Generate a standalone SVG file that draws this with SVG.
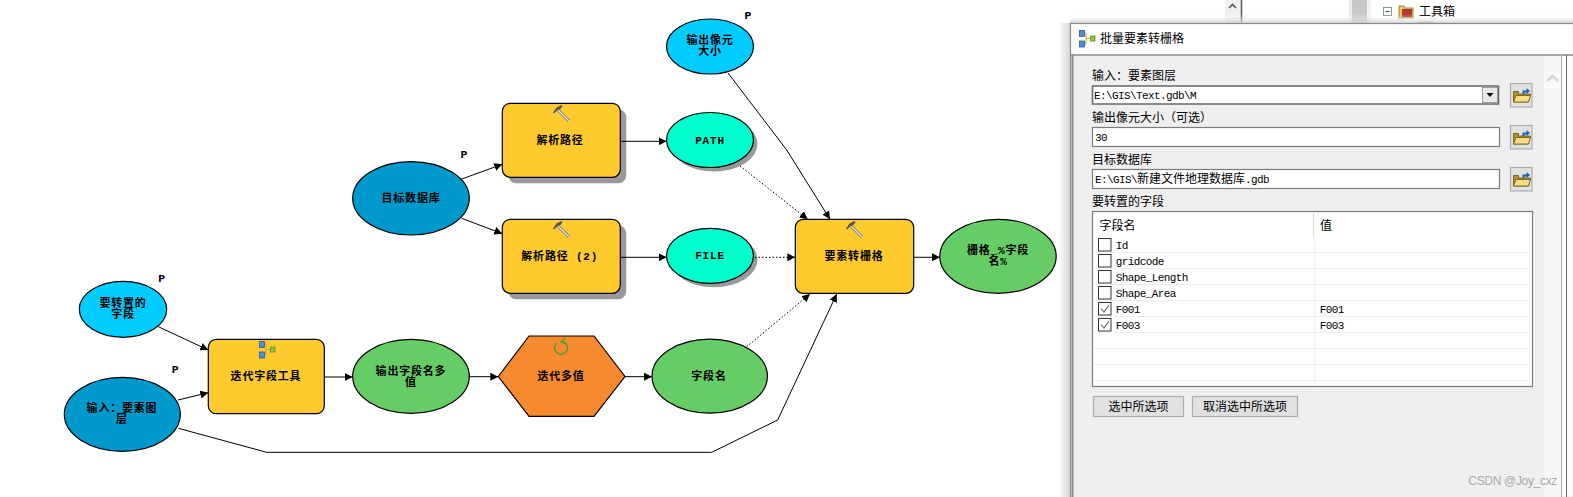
<svg xmlns="http://www.w3.org/2000/svg" width="1573" height="497" viewBox="0 0 1573 497">
<style>
.n{stroke:#000;stroke-width:1.2}
.sh{fill:#999;stroke:none}
.tool{fill:#ffca2e}
.db{fill:#0099cc}
.par{fill:#00ccff}
.out{fill:#00ffcc}
.der{fill:#66cc66}
.t{font-family:"Liberation Mono","Noto Sans CJK SC",monospace;font-size:11px;font-weight:700;letter-spacing:.8px;text-anchor:middle;fill:#000}
.p{font-family:"Liberation Mono",monospace;font-size:11.5px;font-weight:700;text-anchor:middle;fill:#000}
.c{fill:none;stroke:#000;stroke-width:1;marker-end:url(#a)}
.d{stroke-dasharray:1.5 2}
.l{font-family:"Noto Sans CJK SC","Noto Sans",sans-serif;font-size:12px;fill:#000}
.m{font-family:"Liberation Mono","Noto Sans CJK SC",monospace;font-size:11px;letter-spacing:-.6px;fill:#000}
.z{font-family:"Noto Sans CJK SC",sans-serif;font-size:12px;letter-spacing:0;fill:#000}
.f{fill:#fff;stroke:#7a7a80;stroke-width:1.2}
.b{fill:#e1e1e1;stroke:#adadad;stroke-width:1.2}
.fb{fill:#e1e1e1;stroke:#adadad;stroke-width:1.2}
.g{stroke:#ececec;stroke-width:1;fill:none}
.cb{fill:#fff;stroke:#333;stroke-width:1}
.ck{fill:none;stroke:#666;stroke-width:1.1}
</style>
<defs>
<marker id="a" markerUnits="userSpaceOnUse" markerWidth="9" markerHeight="8" refX="8" refY="4" orient="auto"><path d="M0 0L8 4L0 8Z" fill="#000"/></marker>
<linearGradient id="gl" x1="0" x2="1" y1="0" y2="0"><stop offset="0" stop-color="#fff"/><stop offset="1" stop-color="#d8d8d8"/></linearGradient>
<linearGradient id="gt" x1="0" x2="0" y1="0" y2="1"><stop offset="0" stop-color="#fff" stop-opacity="0"/><stop offset="1" stop-color="#cfcfcf" stop-opacity=".8"/></linearGradient>
<g id="hammer">
<path d="M5.5 5.500L16 16" stroke="#777" stroke-width="3" fill="none"/>
<path d="M5.500 5.500L16 16" stroke="#e8e8e8" stroke-width="1.2" fill="none"/>
<path d="M0 7.500L3.500 2.500L8.500 0L9.500 1L7.500 4L4 5.500L1 8.500Z" fill="#555"/>
</g>
<g id="iter">
<path d="M3 3H7V14H3M7 8.500H12" fill="none" stroke="#c9a640" stroke-width="1"/>
<rect x="0.500" y="0.500" width="5" height="6" fill="#4a90d9" stroke="#335f8f" stroke-width=".8"/>
<rect x="0.500" y="11" width="5" height="6" fill="#4a90d9" stroke="#335f8f" stroke-width=".8"/>
<rect x="11.500" y="6" width="4.500" height="5" fill="#8cc63f" stroke="#5f8f2f" stroke-width=".8"/>
</g>
<g id="folder">
<path d="M3 7.500V18H18L20 10H8V7.500Z" fill="#b58f2a" stroke="#6b5414" stroke-width=".8"/>
<path d="M3 18L5.500 11.500H20L18 18Z" fill="#f5dc84" stroke="#6b5414" stroke-width=".8"/>
<path d="M12 6.500H16V4L19.500 7L16 10V8.500H14V10H12Z" fill="#1f5fb0"/>
</g>
</defs>
<rect width="1573" height="497" fill="#fff"/>

<g id="background-window">
<rect x="1225" y="0" width="16" height="24" fill="#f0f0f0"/>
<path d="M1241.500 0V24" stroke="#555" stroke-width="1.500"/>
<path d="M1229 8L1232.500 4.500L1236 8" fill="none" stroke="#555" stroke-width="1.600"/>
<rect x="1352" y="0" width="15" height="24" fill="#c8c8c8"/>
<rect x="1349" y="0" width="3" height="24" fill="#ececec"/>
<rect x="1367" y="0" width="4" height="24" fill="#f2f2f2"/>
<rect x="1383.500" y="7.500" width="8" height="8" fill="#fff" stroke="#8a94a6"/>
<path d="M1385.500 11.500H1389.500" stroke="#2d4a7a"/>
<path d="M1399 18V6H1404L1405 8H1413V18Z" fill="#e9c766" stroke="#8a6d1f" stroke-width=".8"/>
<rect x="1402" y="9" width="10" height="8" fill="#b03a2e"/>
<rect x="1418" y="22" width="15" height="3" fill="#e9c766" stroke="#8a6d1f" stroke-width=".6"/>
<text x="1419" y="16" class="l">工具箱</text>
<rect x="1070" y="14" width="503" height="9" fill="url(#gt)"/>
<rect x="1058" y="23" width="12" height="474" fill="url(#gl)"/>
</g>

<g id="node-target-db"><ellipse class="n db" cx="411" cy="198.300" rx="58.300" ry="36.700"/><text class="t" x="411" y="202">目标数据库</text><text class="p" x="464" y="158">P</text></g>
<g id="node-parse-1"><rect class="sh" x="508.300" y="109.300" width="118" height="74" rx="8"/><rect class="n tool" x="502.300" y="103.300" width="118" height="74" rx="8"/><use href="#hammer" x="553" y="105"/><text class="t" x="560" y="144">解析路径</text></g>
<g id="node-parse-2"><rect class="sh" x="508.300" y="225.300" width="118" height="74" rx="8"/><rect class="n tool" x="502.300" y="219.300" width="118" height="74" rx="8"/><use href="#hammer" x="553" y="221"/><text class="t" x="559.700" y="260">解析路径 (2)</text></g>
<g id="node-path"><ellipse class="sh" cx="714" cy="144" rx="43.500" ry="27.500"/><ellipse class="n out" cx="710" cy="140" rx="43.500" ry="27.500"/><text class="t" x="710" y="144">PATH</text></g>
<g id="node-file"><ellipse class="sh" cx="714" cy="259.800" rx="43.500" ry="27.500"/><ellipse class="n out" cx="710" cy="255.800" rx="43.500" ry="27.500"/><text class="t" x="710" y="259">FILE</text></g>
<g id="node-cell-size"><ellipse class="n par" cx="710" cy="46.500" rx="43.500" ry="27.500"/><text class="t" x="710" y="44">输出像元</text><text class="t" x="710" y="55">大小</text><text class="p" x="748" y="19">P</text></g>
<g id="node-to-raster"><rect class="n tool" x="795.300" y="219.300" width="118.400" height="74" rx="8"/><use href="#hammer" x="846" y="221"/><text class="t" x="854" y="260">要素转栅格</text></g>
<g id="node-raster"><ellipse class="n der" cx="998" cy="256.300" rx="58.200" ry="37"/><text class="t" x="998" y="254">栅格_%字段</text><text class="t" x="998" y="265">名%</text></g>
<g id="node-fields"><ellipse class="n par" cx="123" cy="309.300" rx="43.700" ry="28"/><text class="t" x="123" y="307">要转置的</text><text class="t" x="123" y="318">字段</text><text class="p" x="161.700" y="282">P</text></g>
<g id="node-input"><ellipse class="n db" cx="122.300" cy="414.300" rx="58" ry="37"/><text class="t" x="122" y="412">输入：要素图</text><text class="t" x="122" y="423">层</text><text class="p" x="175.300" y="373">P</text></g>
<g id="node-iterate-tool"><rect class="n tool" x="208.300" y="339.300" width="116" height="74.400" rx="8"/><use href="#iter" x="259" y="341"/><text class="t" x="266" y="380">迭代字段工具</text></g>
<g id="node-multi"><ellipse class="n der" cx="411" cy="376.300" rx="58.300" ry="37"/><text class="t" x="411" y="375">输出字段名多</text><text class="t" x="411" y="386">值</text></g>
<g id="node-iterate"><path class="n" fill="#f68a2e" d="M498.300 376.500L529 336H594L625 376.500L594 416.300H529Z"/><path d="M556.500 343A6.500 6.500 0 1 0 563 341.500" fill="none" stroke="#5a9e2f" stroke-width="1.600"/><path d="M565 338L561 342L566 344" fill="none" stroke="#5a9e2f" stroke-width="1.400"/><text class="t" x="561" y="380">迭代多值</text></g>
<g id="node-field-name"><ellipse class="n der" cx="709.700" cy="376.200" rx="57.700" ry="37"/><text class="t" x="709" y="380">字段名</text></g>

<g id="connectors">
<path class="c" d="M158.300 326.700L208.300 350"/>
<path class="c" d="M178 400L208.300 392.700"/>
<path class="c" d="M178.300 428.300L266.700 452.300H711.700L777.700 420L836.700 294"/>
<path class="c" d="M324.300 377H352.700"/>
<path class="c" d="M469.300 376.700H498.300"/>
<path class="c" d="M625 376.700H652"/>
<path class="c d" d="M746.700 346.700L810 294"/>
<path class="c d" d="M740 166L807.700 219.300"/>
<path class="c d" d="M755 257.300H795.300"/>
<path class="c" d="M913.700 257.300H940"/>
<path class="c" d="M620.300 141.300H666.700"/>
<path class="c" d="M620.300 257.300H666.700"/>
<path class="c" d="M461.700 179L502.300 164.300"/>
<path class="c" d="M461.700 218.300L502.300 233.700"/>
<path class="c" d="M728 73L786.700 150L830 219.300"/>
</g>

<g id="dialog">
<rect x="1070.500" y="23.500" width="503" height="474" fill="#fff" stroke="#8a8a8a" stroke-width="1.200"/>
<path d="M1071 55H1573" stroke="#8a8a8a" stroke-width="1.500"/>
<use href="#iter" x="1079" y="30"/>
<text class="l" x="1100" y="43">批量要素转栅格</text>
<rect x="1073" y="56" width="471" height="441" fill="#efefef"/>
<rect x="1544" y="56" width="17" height="441" fill="#f8f8f8"/>
<path d="M1072.500 55V497" stroke="#8a8a8a" stroke-width="2"/>
<path d="M1561.500 55V497" stroke="#a8a8a8" stroke-width="1"/>
<path d="M1566.500 55V497" stroke="#666" stroke-width="1"/>
<path d="M1547 81L1552.500 76L1558 81" fill="none" stroke="#d8d8d8" stroke-width="2.500"/>

<text class="l" x="1092" y="80">输入：要素图层</text>
<rect x="1092.500" y="86" width="406" height="18" fill="#fff" stroke="#666" stroke-width="1.500"/>
<rect x="1482.500" y="87.500" width="15" height="15" fill="#e8e8e8" stroke="#888" stroke-width=".8"/>
<path d="M1486.500 93L1493.500 93L1490 97Z" fill="#000"/>
<text class="m" x="1094" y="98.500">E:\GIS\Text.gdb\M</text>
<rect class="fb" x="1510.500" y="83.500" width="21.500" height="23.500"/><use href="#folder" x="1510.500" y="84"/>

<text class="l" x="1092" y="121.500">输出像元大小（可选）</text>
<rect class="f" x="1092.500" y="127.500" width="407" height="19"/>
<text class="m" x="1095" y="140.500">30</text>
<rect class="fb" x="1510.500" y="125.500" width="21.500" height="23.500"/><use href="#folder" x="1510.500" y="126"/>

<text class="l" x="1092" y="164">目标数据库</text>
<rect class="f" x="1092.500" y="169.500" width="407" height="19"/>
<text class="m" x="1095" y="182.500">E:\GIS\<tspan class="z">新建文件地理数据库</tspan>.gdb</text>
<rect class="fb" x="1510.500" y="167.500" width="21.500" height="23.500"/><use href="#folder" x="1510.500" y="168"/>

<text class="l" x="1092" y="206">要转置的字段</text>
<rect class="f" x="1092.500" y="211.500" width="440" height="175"/>
<path class="g" d="M1094 252.700H1530M1094 268.700H1530M1094 284.700H1530M1094 300.700H1530M1094 316.700H1530M1094 332.700H1530M1094 348.700H1530M1094 364.700H1530M1094 380.700H1530M1314.700 237V385M1529.700 213V385"/>
<path d="M1313.500 213V237" stroke="#d8d8d8"/>
<text class="l" x="1099.500" y="230">字段名</text>
<text class="l" x="1320" y="230">值</text>
<rect class="cb" x="1098.500" y="238.500" width="12.500" height="12.500"/>
<rect class="cb" x="1098.500" y="254.500" width="12.500" height="12.500"/>
<rect class="cb" x="1098.500" y="270.500" width="12.500" height="12.500"/>
<rect class="cb" x="1098.500" y="286.500" width="12.500" height="12.500"/>
<rect class="cb" x="1098.500" y="302.500" width="12.500" height="12.500"/>
<path class="ck" d="M1101 308.500L1104 312L1109 305"/>
<rect class="cb" x="1098.500" y="318.500" width="12.500" height="12.500"/>
<path class="ck" d="M1101 324.500L1104 328L1109 321"/>
<text class="m" x="1115.700" y="249">Id</text>
<text class="m" x="1115.700" y="265">gridcode</text>
<text class="m" x="1115.700" y="281">Shape_Length</text>
<text class="m" x="1115.700" y="297">Shape_Area</text>
<text class="m" x="1115.700" y="313">F001</text>
<text class="m" x="1115.700" y="329">F003</text>
<text class="m" x="1319.700" y="313">F001</text>
<text class="m" x="1319.700" y="329">F003</text>

<rect class="b" x="1093.500" y="396.500" width="90" height="20"/>
<text class="l" x="1138.500" y="411" text-anchor="middle">选中所选项</text>
<rect class="b" x="1192.500" y="396.500" width="105" height="20"/>
<text class="l" x="1245" y="411" text-anchor="middle">取消选中所选项</text>
<text x="1468.300" y="485" font-family="Liberation Sans,sans-serif" font-size="12px" fill="#a9a9a9" textLength="89">CSDN @Joy_cxz</text>
</g>
</svg>
